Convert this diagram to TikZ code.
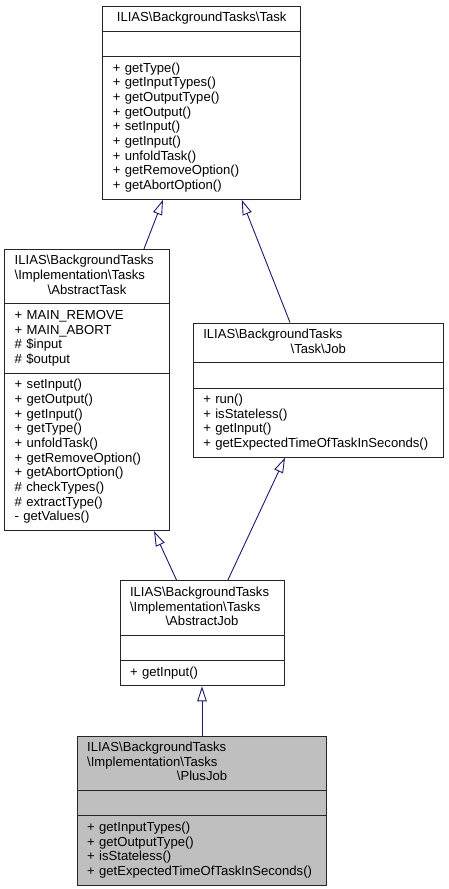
\documentclass[tikz,border=0pt]{standalone}
\usepackage{fontspec}
\setmainfont{Liberation Sans}
\usetikzlibrary{positioning,shapes.multipart,arrows.meta}
\definecolor{edgeblue}{HTML}{191970}
\definecolor{selgray}{HTML}{BFBFBF}
\newcommand\bsl{\textbackslash}
\begin{document}
\begin{tikzpicture}[x=1pt, y=1pt, thick,
    cls/.style = {draw=black!85, line width=0.9pt, fill=white, rectangle split, rectangle split parts=3,
      inner xsep=10pt, inner ysep=4.8pt, align=left, font=\fontsize{13.1}{14.7}\selectfont},
    inherit/.style = {draw=edgeblue, line width=0.9pt, -{Triangle[open, length=15pt, width=9.5pt]}}]
    \useasboundingbox (0,0) rectangle (448,-889);
    \node[cls, text width=177.7pt, anchor=north] (task) at (201.7,-5.7)
      {\makebox[\linewidth]{\strut ILIAS\bsl BackgroundTasks\bsl Task}
       \nodepart{two}\strut
       \nodepart{three}\strut + getType()\\ + getInputTypes()\\ + getOutputType()\\ + getOutput()\\ + setInput()\\
       + getInput()\\ + unfoldTask()\\ + getRemoveOption()\\ + getAbortOption()\strut};
    \node[cls, text width=144.6pt] (atask) [below=49pt of task.south, xshift=-114.7pt]
      {\strut ILIAS\bsl BackgroundTasks\\ \bsl Implementation\bsl Tasks\\ \makebox[\linewidth]{\bsl AbstractTask\strut}
       \nodepart{two}\strut + MAIN\_REMOVE\\ + MAIN\_ABORT\\ \# \$input\\ \# \$output\strut
       \nodepart{three}\strut + setInput()\\ + getOutput()\\ + getInput()\\ + getType()\\ + unfoldTask()\\
       + getRemoveOption()\\ + getAbortOption()\\ \# checkTypes()\\ \# extractType()\\ - getValues()\strut};
    \node[cls, text width=230pt] (job) [below=122.7pt of task.south, xshift=116.6pt]
      {\strut ILIAS\bsl BackgroundTasks\\ \makebox[\linewidth]{\bsl Task\bsl Job\strut}
       \nodepart{two}\strut
       \nodepart{three}\strut + run()\\ + isStateless()\\ + getInput()\\ + getExpectedTimeOfTaskInSeconds()\strut};
    \node[cls, text width=144pt] (ajob) [below=49.3pt of atask.south, xshift=115pt]
      {\strut ILIAS\bsl BackgroundTasks\\ \bsl Implementation\bsl Tasks\\ \makebox[\linewidth]{\bsl AbstractJob\strut}
       \nodepart{two}\strut
       \nodepart{three}\strut + getInput()\strut};
    \node[cls, fill=selgray, text width=229.7pt] (plusjob) [below=49.3pt of ajob.south]
      {\strut ILIAS\bsl BackgroundTasks\\ \bsl Implementation\bsl Tasks\\ \makebox[\linewidth]{\bsl PlusJob\strut}
       \nodepart{two}\strut
       \nodepart{three}\strut + getInputTypes()\\ + getOutputType()\\ + isStateless()\\ + getExpectedTimeOfTaskInSeconds()\strut};
    \draw[inherit] ([xshift=57pt]atask.north) -- ([xshift=-38.7pt]task.south);
    \draw[inherit] ([xshift=-28.3pt]job.north) -- ([xshift=40pt]task.south);
    \draw[inherit] ([xshift=-25.3pt]ajob.north) -- ([xshift=67pt]atask.south);
    \draw[inherit] ([xshift=25.7pt]ajob.north) -- ([xshift=-33.3pt]job.south);
    \draw[inherit] (plusjob.north) -- (ajob.south);
\end{tikzpicture}
\end{document}
